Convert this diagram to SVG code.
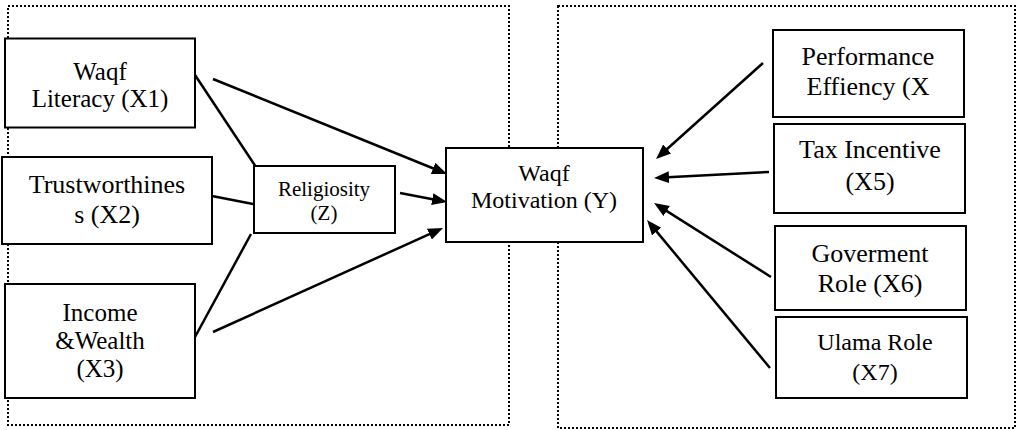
<svg xmlns="http://www.w3.org/2000/svg" width="1022" height="430" viewBox="0 0 1022 430">
<style>
.frame{fill:none;stroke:#000;stroke-width:2;stroke-dasharray:2 2}
.box{fill:#fff;stroke:#000;stroke-width:2}
.t{font-size:26px;fill:#000;text-anchor:middle}
.n{font-size:25px}
.s{font-size:21px}
.m{font-size:24px}
.c{stroke:#000;stroke-width:2.5;fill:none}
.a{marker-end:url(#ah)}
</style>
<defs>
<marker id="ah" markerUnits="userSpaceOnUse" markerWidth="16" markerHeight="14" refX="11" refY="6" orient="auto">
<path d="M0,0 L15,6 L0,12 z" fill="#000"/>
</marker>
</defs>
<rect class="frame" x="8" y="6" width="501" height="419"/>
<rect class="frame" x="558" y="6" width="457" height="422"/>
<g id="connectors">
<line class="c" x1="195" y1="75" x2="256" y2="167"/>
<line class="c" x1="212" y1="196" x2="253" y2="204"/>
<line class="c" x1="195" y1="337" x2="251" y2="234"/>
<line class="c a" x1="213" y1="79" x2="443.3" y2="172.5"/>
<line class="c a" x1="400" y1="193" x2="443.1" y2="201.2"/>
<line class="c a" x1="213" y1="332" x2="439.4" y2="229.6"/>
<line class="c a" x1="763" y1="63" x2="659" y2="156.3"/>
<line class="c a" x1="769" y1="172" x2="658" y2="177.8"/>
<line class="c a" x1="771" y1="277" x2="657.4" y2="205.1"/>
<line class="c a" x1="770" y1="368" x2="649.6" y2="223.1"/>
</g>
<g font-family="'Liberation Serif', 'DejaVu Serif', serif">
<g id="x1">
<rect class="box" x="5" y="38.5" width="190" height="89"/>
<text class="t n" x="100" y="80">Waqf</text>
<text class="t n" x="100" y="107">Literacy (X1)</text>
</g>
<g id="x2">
<rect class="box" x="2" y="157" width="210" height="87"/>
<text class="t" x="107" y="193">Trustworthines</text>
<text class="t" x="107" y="223">s (X2)</text>
</g>
<g id="x3">
<rect class="box" x="5" y="284" width="190" height="114"/>
<text class="t n" x="100" y="321">Income</text>
<text class="t n" x="100" y="349">&amp;Wealth</text>
<text class="t n" x="100" y="377">(X3)</text>
</g>
<g id="z">
<rect class="box" x="254" y="166" width="141" height="67"/>
<text class="t s" x="324" y="196">Religiosity</text>
<text class="t s" x="324" y="220">(Z)</text>
</g>
<g id="y">
<rect class="box" x="446" y="148" width="197" height="94"/>
<text class="t m" x="544" y="181">Waqf</text>
<text class="t m" x="544" y="208">Motivation (Y)</text>
</g>
<g id="x4">
<rect class="box" x="773" y="30" width="191" height="87"/>
<text class="t" x="868" y="65">Performance</text>
<text class="t" x="868" y="95">Effiency (X</text>
</g>
<g id="x5">
<rect class="box" x="774" y="124" width="191" height="89"/>
<text class="t" x="870" y="158">Tax Incentive</text>
<text class="t" x="870" y="190">(X5)</text>
</g>
<g id="x6">
<rect class="box" x="775" y="226" width="191" height="84"/>
<text class="t" x="870" y="262">Goverment</text>
<text class="t" x="870" y="292">Role (X6)</text>
</g>
<g id="x7">
<rect class="box" x="776" y="317" width="191" height="81"/>
<text class="t m" x="875" y="350">Ulama Role</text>
<text class="t m" x="875" y="380">(X7)</text>
</g>
</g>
</svg>
